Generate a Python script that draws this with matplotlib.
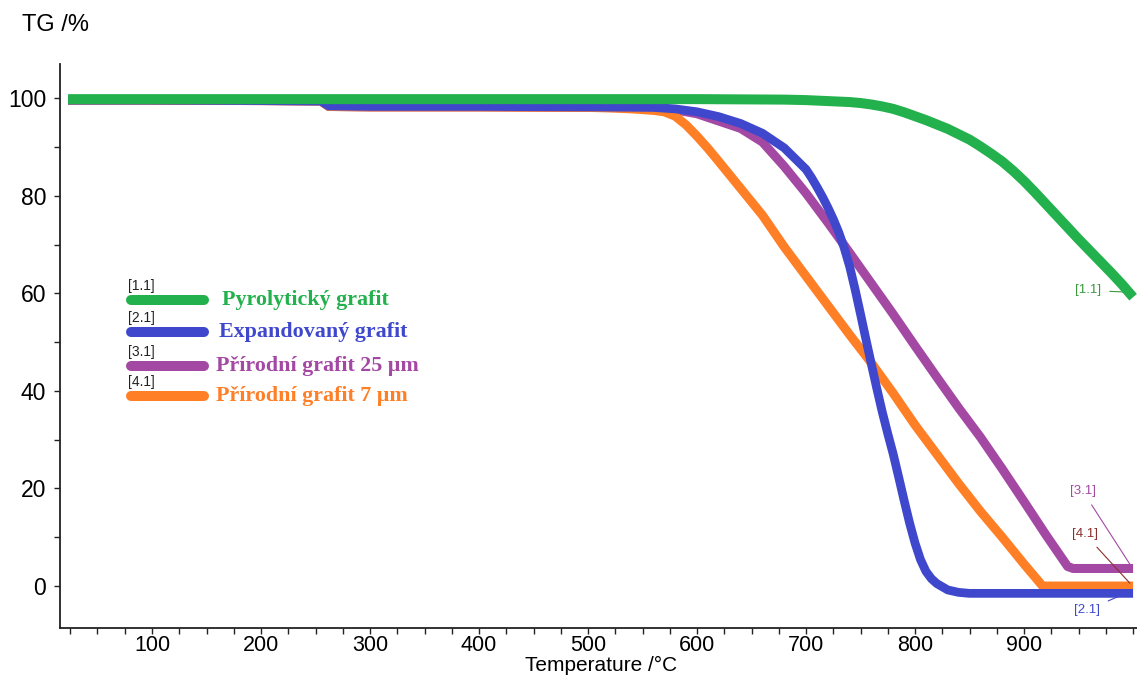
import numpy as np
import matplotlib.pyplot as plt
from matplotlib.ticker import MultipleLocator

# --- Data ---

t_pyro = [23, 100, 200, 300, 400, 500, 600, 680, 700, 710, 720, 730, 740,
          750, 760, 770, 780, 790, 800, 810, 820, 830, 840, 850, 860, 870,
          880, 890, 900, 910, 920, 930, 940, 950, 960, 970, 980, 990, 1000]
tg_pyro = [99.8, 99.8, 99.8, 99.8, 99.8, 99.8, 99.8, 99.7, 99.6, 99.5, 99.4,
           99.3, 99.2, 99.0, 98.7, 98.3, 97.8, 97.1, 96.3, 95.5, 94.6, 93.7,
           92.6, 91.5, 90.1, 88.6, 87.0, 85.1, 83.0, 80.7, 78.3, 75.9, 73.5,
           71.1, 68.8, 66.5, 64.2, 61.8, 59.2]

t_exp = [23, 100, 200, 255, 262, 300, 400, 500, 560, 580, 600, 620, 640, 660,
         680, 700, 705, 710, 715, 720, 725, 730, 735, 740, 745, 750, 755, 760,
         765, 770, 775, 780, 785, 790, 795, 800, 805, 810, 815, 820, 830, 840,
         850, 900, 1000]
tg_exp = [99.6, 99.6, 99.5, 99.4, 98.4, 98.3, 98.3, 98.2, 98.1, 97.8, 97.2,
          96.2, 94.8, 92.8, 89.8, 85.4, 83.7, 81.8, 79.8, 77.6, 75.2, 72.5,
          69.3, 65.5, 60.8, 55.7, 50.5, 45.4, 40.4, 35.6, 31.2, 27.0, 22.3,
          17.5, 12.9, 8.8, 5.4, 3.0, 1.5, 0.5, -0.8, -1.3, -1.5, -1.5, -1.5]

t_nat25 = [23, 100, 200, 255, 262, 300, 400, 500, 560, 580, 600, 620, 640,
           660, 680, 700, 720, 740, 760, 780, 800, 820, 840, 860, 880, 900,
           920, 940, 945, 1000]
tg_nat25 = [99.6, 99.6, 99.5, 99.4, 98.3, 98.2, 98.2, 98.1, 98.0, 97.6, 96.8,
            95.3, 93.8, 91.0, 86.0, 80.5, 74.5, 68.3, 62.0, 55.7, 49.2, 42.8,
            36.5, 30.5, 24.0, 17.3, 10.5, 4.0, 3.6, 3.6]

t_nat7 = [23, 100, 200, 255, 262, 300, 400, 500, 520, 540, 560, 570, 580,
          590, 600, 610, 620, 640, 660, 680, 700, 720, 740, 760, 780, 800,
          820, 840, 860, 880, 900, 917, 1000]
tg_nat7 = [99.6, 99.6, 99.5, 99.4, 98.3, 98.2, 98.2, 98.1, 98.0, 97.8, 97.5,
           97.2, 96.3, 94.5, 92.2, 89.7, 87.0, 81.5, 76.0, 69.5, 63.5, 57.5,
           51.5, 45.7, 39.5, 33.0, 27.0, 21.0, 15.3, 10.0, 4.5, 0.0, 0.0]

names = ["Pyrolytický grafit", "Expandovaný grafit",
         "Přírodní grafit 25 µm", "Přírodní grafit 7 µm"]
tags = ["[1.1]", "[2.1]", "[3.1]", "[4.1]"]
colors = ["#22B14C", "#3F48CC", "#A349A4", "#FF7F27"]

# --- Plot ---

plt.rcParams['font.family'] = ['Liberation Sans', 'DejaVu Sans']

fig = plt.figure(figsize=(11.37, 6.77), dpi=100)
ax = fig.add_axes([60 / 1137, 49 / 677, 1077 / 1137, 564 / 677])

ax.plot(t_nat25, tg_nat25, color=colors[2], lw=6.5, zorder=2,
        solid_capstyle='butt', solid_joinstyle='round')
ax.plot(t_nat7, tg_nat7, color=colors[3], lw=6.5, zorder=3,
        solid_capstyle='butt', solid_joinstyle='round')
ax.plot(t_exp, tg_exp, color=colors[1], lw=6.3, zorder=4,
        solid_capstyle='butt', solid_joinstyle='round')
ax.plot(t_pyro, tg_pyro, color=colors[0], lw=7.2, zorder=5,
        solid_capstyle='butt', solid_joinstyle='round')

ax.set_xlim(15.6, 1003.6)
ax.set_ylim(-8.6, 107)
ax.xaxis.set_minor_locator(MultipleLocator(25))
ax.yaxis.set_major_locator(MultipleLocator(20))
ax.yaxis.set_minor_locator(MultipleLocator(10))
ax.set_xticks([100, 200, 300, 400, 500, 600, 700, 800, 900])
ax.tick_params(which='both', direction='out', length=4, width=1.0,
               labelsize=16.5, color='#222222')
ax.tick_params(axis='x', pad=1, labelsize=15.5)
ax.tick_params(axis='y', pad=6)
for side in ['top', 'right']:
    ax.spines[side].set_visible(False)
for side in ['left', 'bottom']:
    ax.spines[side].set_linewidth(1.3)
    ax.spines[side].set_color('#222222')

fig.text(22 / 1137, 1 - 25 / 677, "TG /%", fontsize=17, va='center', ha='left')
fig.text(601 / 1137, 1 - 665 / 677, "Temperature /°C", fontsize=15,
         va='center', ha='center')

# custom legend (pixel positions converted to axes fractions)
leg_y = [300, 332, 366, 396]
leg_x = [222, 219, 216, 216]
for name, tag, c, py, px in zip(names, tags, colors, leg_y, leg_x):
    yf = (628 - py) / 564
    ax.plot([(131 - 60) / 1077, (204 - 60) / 1077], [yf, yf], color=c, lw=7.2,
            solid_capstyle='round', transform=ax.transAxes, clip_on=False)
    ax.text((128 - 60) / 1077, yf + 14 / 564, tag, fontsize=10,
            color='#222222', va='center', ha='left', transform=ax.transAxes)
    ax.text((px - 60) / 1077, yf, name, fontsize=15.8, color=c,
            family=['Liberation Serif', 'DejaVu Serif'], weight='bold',
            va='center', ha='left', transform=ax.transAxes)

# curve tags at the right end
ann = [
    ("[1.1]", "#3A9A3A", (959, 60.6), (999, 60.2)),
    ("[3.1]", "#A349A4", (954, 19.4), (999, 3.8)),
    ("[4.1]", "#8B2E2E", (956, 10.6), (997, 0.6)),
    ("[2.1]", "#3F48CC", (958, -4.9), (988, -2.0)),
]
for tag, c, xy_text, xy_pt in ann:
    ax.annotate(tag, xy=xy_pt, xytext=xy_text, fontsize=9.5, color=c,
                ha='center', va='center',
                arrowprops=dict(arrowstyle='-', color=c, lw=0.8,
                                shrinkA=4, shrinkB=0))

fig.savefig("out.png", dpi=100)
